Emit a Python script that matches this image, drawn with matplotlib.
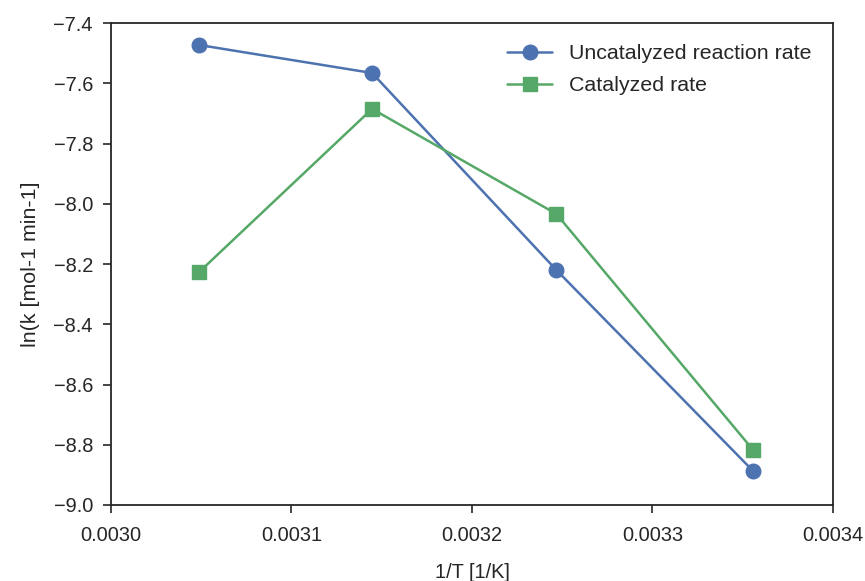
import numpy as np
import matplotlib
matplotlib.use("Agg")
import matplotlib.pyplot as plt
import seaborn as sns

sns.set_theme(style="ticks")
plt.rcParams['font.family'] = ['Liberation Sans', 'DejaVu Sans']

temperatures = [328, 318, 308, 298]
uncatalyzed = [-7.473, -7.566, -8.220, -8.887]
catalyzed = [-8.227, -7.685, -8.034, -8.817]

inv_t = 1.0 / np.array(temperatures, dtype=float)

fig = plt.figure(figsize=(8.65, 5.81), dpi=100)
ax = fig.add_axes([111 / 865, 1 - 505 / 581, (833 - 111) / 865, (505 - 23) / 581])

ax.plot(inv_t, uncatalyzed, marker='o', color='#4c72b0', lw=1.8, ms=10.5,
        label='Uncatalyzed reaction rate')
ax.plot(inv_t, catalyzed, marker='s', color='#55a868', lw=1.8, ms=10.5,
        label='Catalyzed rate')

ax.set_xlim(0.0030, 0.0034)
ax.set_ylim(-9.0, -7.4)
ax.set_xticks([0.0030, 0.0031, 0.0032, 0.0033, 0.0034])
ax.set_xticklabels(['0.0030', '0.0031', '0.0032', '0.0033', '0.0034'])
ax.set_yticks(np.arange(-9.0, -7.39, 0.2))
ax.set_yticklabels(['\u22129.0', '\u22128.8', '\u22128.6', '\u22128.4', '\u22128.2',
                    '\u22128.0', '\u22127.8', '\u22127.6', '\u22127.4'])
ax.tick_params(labelsize=14.4, length=6, width=1.2, color='#262626')
ax.tick_params(axis='x', pad=9)
ax.tick_params(axis='y', pad=7)
for s in ax.spines.values():
    s.set_linewidth(1.3)
    s.set_color('#262626')

ax.set_xlabel('1/T [1/K]', fontsize=14.4, labelpad=13)
ax.set_ylabel('ln(k [mol-1 min-1]', fontsize=15.4, labelpad=10)
ax.legend(loc='upper right', fontsize=15.4, frameon=False, borderaxespad=0.6,
          handlelength=2.1, labelspacing=0.6)

fig.savefig('out.png', dpi=100)
